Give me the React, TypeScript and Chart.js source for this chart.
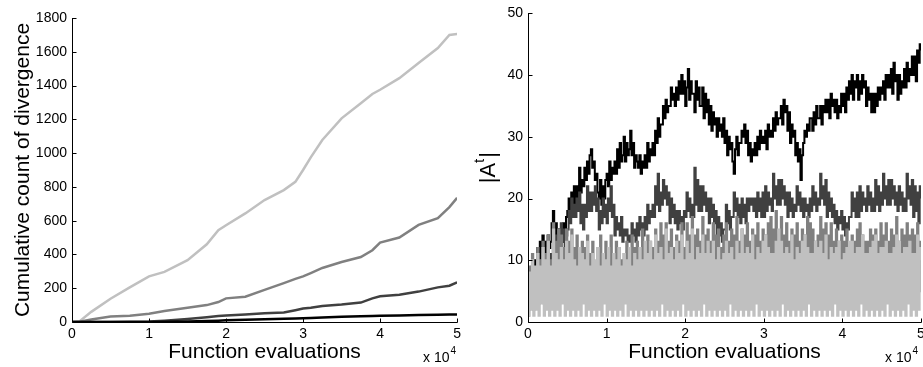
import React, { useEffect, useRef } from "react";
import { Chart, registerables } from "chart.js";
Chart.register(...registerables);

const FONT = "'Liberation Sans', Arial, Helvetica, sans-serif";

// ---------- Left panel: cumulative count of divergence ----------
const evalPoints = [0, 1000, 2500, 5000, 7500, 10000, 12000, 15000, 17500, 19000, 20000, 22500, 25000, 27500, 29000, 30000, 31000, 32500, 35000, 37500, 39000, 40000, 42500, 45000, 47500, 49000, 50000];
const divLight = [0, 5, 60, 138, 205, 270, 297, 366, 460, 544, 573, 643, 722, 781, 830, 900, 975, 1078, 1206, 1295, 1350, 1375, 1444, 1533, 1622, 1700, 1705];
const divMid = [0, 2, 15, 32, 37, 49, 65, 85, 100, 118, 140, 150, 190, 230, 255, 270, 290, 320, 355, 385, 425, 470, 500, 575, 615, 680, 735];
const divDark = [0, 0, 0, 0, 1, 3, 8, 18, 28, 35, 38, 45, 52, 56, 70, 80, 85, 95, 103, 115, 140, 152, 162, 180, 205, 215, 235];
const divBlack = [0, 0, 0, 0, 0, 0, 1, 3, 6, 8, 10, 13, 16, 19, 21, 22, 24, 27, 31, 34, 36, 37, 39, 41, 43, 44, 45];

// ---------- Right panel: |A^t| (sampled every 1/6 of 1000 evaluations) ----------
const sampleCount = 301;
const aBlack = [
  3, 7, 5, 9, 6, 10, 8, 12, 9, 13, 10, 14, 11, 13, 10, 14, 12, 13, 16, 18, 14, 16, 13, 15,
  12, 15, 13, 16, 14, 17, 18, 20, 17, 21, 19, 22, 19, 22, 20, 25, 21, 23, 22, 25, 23, 26, 24, 27,
  28, 25, 26, 23, 24, 21, 20, 23, 19, 22, 20, 23, 24, 22, 26, 23, 25, 24, 26, 24, 28, 25, 29, 26,
  27, 30, 26, 29, 27, 28, 31, 27, 29, 25, 27, 26, 25, 27, 24, 26, 25, 27, 25, 29, 26, 28, 27, 29,
  27, 31, 29, 33, 30, 32, 32, 35, 33, 36, 34, 35, 35, 38, 36, 37, 35, 38, 36, 39, 37, 40, 37, 39,
  35, 38, 41, 36, 39, 37, 37, 34, 39, 36, 38, 35, 35, 38, 33, 37, 34, 36, 32, 35, 31, 34, 32, 33,
  30, 33, 31, 32, 30, 33, 29, 31, 27, 30, 28, 29, 26, 24, 28, 30, 27, 29, 29, 31, 30, 32, 29, 31,
  27, 29, 26, 28, 27, 29, 27, 30, 28, 31, 29, 30, 29, 31, 28, 32, 30, 31, 30, 33, 31, 34, 32, 33,
  33, 35, 32, 36, 34, 35, 31, 34, 29, 32, 30, 31, 27, 29, 26, 28, 23, 27, 29, 31, 30, 32, 31, 33,
  33, 31, 34, 32, 35, 33, 33, 35, 32, 35, 34, 36, 34, 36, 33, 37, 35, 36, 34, 36, 33, 35, 34, 37,
  35, 37, 34, 38, 36, 39, 37, 40, 36, 39, 38, 40, 36, 39, 37, 40, 38, 39, 35, 38, 36, 37, 34, 37,
  34, 37, 35, 38, 36, 38, 37, 39, 36, 40, 38, 40, 38, 41, 37, 42, 39, 40, 36, 40, 37, 39, 38, 41,
  38, 42, 39, 41, 40, 43, 40, 43, 39, 44, 42, 45, 44
];
const aDark = [
  2, 6, 3, 8, 4, 7, 5, 9, 6, 10, 7, 11, 6, 10, 8, 12, 9, 11, 10, 13, 11, 14, 12, 15,
  12, 16, 13, 15, 12, 14, 15, 18, 16, 20, 17, 19, 17, 20, 18, 21, 16, 19, 15, 19, 17, 22, 18, 21,
  18, 21, 19, 22, 18, 20, 15, 18, 16, 20, 17, 19, 16, 20, 18, 22, 17, 19, 14, 17, 15, 16, 14, 17,
  13, 15, 14, 15, 13, 14, 13, 16, 14, 15, 13, 16, 14, 17, 15, 16, 14, 17, 15, 19, 16, 18, 17, 19,
  17, 22, 19, 24, 18, 21, 19, 23, 20, 22, 19, 21, 16, 20, 17, 19, 16, 18, 15, 18, 16, 17, 15, 18,
  17, 21, 18, 20, 17, 19, 17, 25, 19, 23, 18, 22, 18, 22, 19, 21, 18, 20, 16, 20, 17, 19, 16, 18,
  13, 17, 14, 16, 13, 15, 15, 19, 16, 18, 15, 17, 17, 21, 18, 20, 17, 19, 16, 20, 17, 19, 16, 20,
  18, 20, 19, 20, 18, 20, 17, 21, 18, 20, 17, 21, 17, 22, 18, 21, 19, 20, 18, 24, 20, 22, 19, 23,
  19, 23, 20, 22, 19, 21, 17, 21, 18, 20, 17, 19, 18, 22, 19, 21, 18, 20, 17, 20, 18, 19, 17, 20,
  18, 22, 19, 21, 18, 20, 19, 24, 20, 22, 19, 23, 17, 21, 18, 20, 17, 19, 16, 18, 15, 17, 16, 18,
  15, 17, 14, 16, 15, 17, 17, 21, 18, 20, 17, 21, 17, 22, 18, 21, 19, 20, 18, 22, 19, 21, 18, 20,
  18, 23, 19, 22, 18, 21, 19, 24, 20, 22, 19, 23, 19, 23, 20, 22, 19, 21, 18, 22, 19, 21, 18, 20,
  18, 24, 20, 22, 19, 23, 17, 22, 18, 21, 16, 22, 20
];
const aMid = [
  1, 9, 3, 11, 2, 8, 4, 12, 3, 10, 5, 13, 3, 11, 5, 14, 4, 10, 6, 16, 5, 13, 7, 15,
  5, 14, 6, 12, 4, 15, 7, 13, 5, 15, 6, 12, 4, 14, 6, 11, 5, 13, 6, 12, 4, 14, 7, 11,
  5, 13, 6, 9, 4, 12, 7, 14, 5, 11, 6, 13, 4, 12, 6, 14, 5, 11, 6, 13, 4, 12, 7, 10,
  5, 11, 6, 13, 4, 12, 7, 14, 5, 12, 6, 13, 4, 12, 6, 15, 5, 11, 6, 14, 4, 13, 7, 12,
  5, 15, 6, 13, 4, 16, 7, 14, 5, 16, 6, 13, 4, 15, 6, 12, 5, 14, 6, 13, 7, 16, 4, 12,
  5, 16, 6, 14, 7, 17, 4, 14, 6, 15, 5, 13, 6, 17, 4, 14, 7, 15, 5, 13, 6, 16, 4, 14,
  7, 15, 5, 12, 6, 14, 4, 16, 7, 13, 5, 15, 6, 14, 4, 17, 6, 13, 5, 15, 7, 14, 4, 16,
  6, 13, 5, 15, 7, 14, 4, 16, 6, 13, 5, 15, 7, 14, 4, 16, 6, 17, 5, 15, 7, 18, 4, 14,
  6, 17, 5, 14, 7, 16, 4, 13, 6, 15, 5, 14, 7, 16, 4, 13, 6, 15, 5, 14, 7, 17, 4, 16,
  6, 15, 5, 13, 7, 14, 4, 17, 6, 15, 5, 16, 7, 14, 4, 16, 6, 13, 5, 15, 7, 13, 4, 14,
  6, 13, 5, 15, 7, 12, 4, 14, 6, 13, 5, 15, 7, 16, 4, 14, 6, 13, 5, 13, 7, 15, 4, 14,
  6, 15, 5, 13, 7, 16, 4, 14, 6, 16, 5, 13, 7, 15, 4, 14, 6, 17, 5, 13, 7, 15, 4, 14,
  6, 16, 5, 14, 7, 15, 4, 14, 6, 16, 5, 13, 12
];
const aLight = [
  1, 8, 2, 10, 1, 9, 2, 11, 1, 9, 3, 12, 1, 10, 2, 13, 1, 9, 2, 15, 1, 11, 2, 10,
  1, 12, 3, 10, 1, 13, 2, 11, 1, 14, 2, 10, 1, 9, 2, 12, 1, 11, 3, 10, 1, 13, 2, 9,
  1, 11, 2, 10, 1, 12, 2, 9, 1, 11, 3, 10, 1, 12, 2, 9, 1, 11, 2, 10, 1, 12, 2, 9,
  1, 11, 3, 10, 1, 12, 2, 9, 1, 11, 2, 10, 1, 12, 2, 10, 1, 13, 2, 11, 1, 13, 2, 10,
  1, 14, 2, 11, 1, 12, 3, 10, 1, 15, 2, 11, 1, 12, 2, 10, 1, 13, 2, 11, 1, 14, 3, 10,
  1, 13, 2, 11, 1, 15, 2, 10, 1, 12, 2, 11, 1, 14, 3, 11, 1, 13, 2, 11, 1, 13, 2, 10,
  1, 12, 2, 10, 1, 11, 2, 13, 1, 11, 3, 12, 1, 10, 2, 13, 1, 11, 2, 15, 1, 11, 2, 12,
  1, 11, 2, 14, 1, 10, 3, 12, 1, 11, 2, 13, 1, 14, 2, 12, 1, 11, 2, 11, 1, 13, 2, 15,
  1, 13, 3, 11, 1, 12, 2, 11, 1, 14, 2, 10, 1, 12, 2, 11, 1, 13, 2, 14, 1, 12, 3, 11,
  1, 11, 2, 13, 1, 12, 2, 13, 1, 11, 2, 14, 1, 10, 2, 12, 1, 11, 3, 12, 1, 13, 2, 10,
  1, 11, 2, 12, 1, 13, 2, 13, 1, 11, 2, 12, 1, 12, 3, 14, 1, 11, 2, 11, 1, 12, 2, 13,
  1, 14, 2, 11, 1, 12, 2, 12, 1, 13, 3, 11, 1, 11, 2, 12, 1, 14, 2, 13, 1, 11, 2, 12,
  1, 12, 3, 13, 1, 11, 2, 11, 1, 14, 2, 12, 10
];

const xTickLabels = ["0", "1", "2", "3", "4", "5"];
const xMaxEvals = 50000;

function pts(xs: number[], ys: number[]) {
  return ys.map((y, i) => ({ x: xs[i], y }));
}

const sampleX = Array.from({ length: sampleCount }, (_, i) => (i * xMaxEvals) / (sampleCount - 1));

type PanelCfg = {
  xTitleY: number;
  expX: number;
  expY: number;
  yTitle: (ctx: CanvasRenderingContext2D, a: any) => void;
};

function axesPlugin(cfg: PanelCfg) {
  return {
    id: "matlabAxes",
    afterDraw(chart: any) {
      const { ctx, chartArea: a, scales } = chart;
      const xs = scales.x;
      const ys = scales.y;
      ctx.save();
      ctx.strokeStyle = "#000";
      ctx.lineWidth = 1;
      const L = Math.round(a.left) + 0.5;
      const B = Math.round(a.bottom) + 0.5;
      ctx.beginPath();
      ctx.moveTo(L, Math.round(a.top));
      ctx.lineTo(L, B);
      ctx.lineTo(Math.round(a.right) + 0.5, B);
      for (const t of xs.ticks) {
        const px = Math.round(xs.getPixelForValue(t.value)) + 0.5;
        ctx.moveTo(px, B);
        ctx.lineTo(px, B - 4);
      }
      for (const t of ys.ticks) {
        const py = Math.round(ys.getPixelForValue(t.value)) + 0.5;
        ctx.moveTo(L, py);
        ctx.lineTo(L + 4, py);
      }
      ctx.stroke();

      ctx.fillStyle = "#000";
      ctx.font = `21px ${FONT}`;
      ctx.textAlign = "center";
      ctx.textBaseline = "alphabetic";
      ctx.fillText("Function evaluations", (a.left + a.right) / 2, cfg.xTitleY);

      ctx.font = `14px ${FONT}`;
      ctx.textAlign = "left";
      ctx.fillText("x 10", cfg.expX, cfg.expY);
      const w = ctx.measureText("x 10").width;
      ctx.font = `10px ${FONT}`;
      ctx.fillText("4", cfg.expX + w + 1, cfg.expY - 8);

      cfg.yTitle(ctx, a);
      ctx.restore();
    },
  };
}

function baseOptions(yMax: number, yStep: number, yAxisWidth: number, padTop: number, padRight: number) {
  return {
    responsive: false,
    maintainAspectRatio: false,
    animation: false,
    layout: { padding: { top: padTop, right: padRight, left: 0, bottom: 0 } },
    plugins: { legend: { display: false }, tooltip: { enabled: false } },
    elements: { point: { radius: 0 }, line: { tension: 0 } },
    scales: {
      x: {
        type: "linear",
        min: 0,
        max: xMaxEvals,
        grid: { display: false, drawTicks: false },
        border: { display: false },
        ticks: {
          stepSize: 10000,
          autoSkip: false,
          maxRotation: 0,
          padding: 4,
          color: "#000",
          font: { family: FONT, size: 14 },
          callback: (v: number) => xTickLabels[Math.round(v / 10000)] ?? "",
        },
        afterFit: (s: any) => {
          s.height = 45;
        },
      },
      y: {
        type: "linear",
        min: 0,
        max: yMax,
        grid: { display: false, drawTicks: false },
        border: { display: false },
        ticks: {
          stepSize: yStep,
          padding: 5,
          color: "#000",
          font: { family: FONT, size: 14 },
          callback: (v: number) => String(v),
        },
        afterFit: (s: any) => {
          s.width = yAxisWidth;
        },
      },
    },
  };
}

function LeftPanel() {
  const ref = useRef<HTMLCanvasElement>(null);
  useEffect(() => {
    const mk = (data: number[], color: string, order: number) => ({
      data: pts(evalPoints, data),
      borderColor: color,
      borderWidth: 2.5,
      pointRadius: 0,
      fill: false,
      order,
    });
    const chart = new Chart(ref.current!, {
      type: "line",
      data: {
        datasets: [
          mk(divLight, "#c0c0c0", 3),
          mk(divMid, "#808080", 2),
          mk(divDark, "#404040", 1),
          mk(divBlack, "#000000", 0),
        ],
      },
      options: baseOptions(1800, 200, 72, 18, 6) as any,
      plugins: [
        axesPlugin({
          xTitleY: 358,
          expX: 423,
          expY: 362,
          yTitle: (ctx, a) => {
            ctx.save();
            ctx.translate(29, (a.top + a.bottom) / 2);
            ctx.rotate(-Math.PI / 2);
            ctx.font = `21px ${FONT}`;
            ctx.textAlign = "center";
            ctx.textBaseline = "alphabetic";
            ctx.fillText("Cumulative count of divergence", 0, 0);
            ctx.restore();
          },
        }),
      ],
    });
    return () => chart.destroy();
  }, []);
  return <canvas ref={ref} width={465} height={367} style={{ position: "absolute", left: 0, top: 0 }} />;
}

function RightPanel() {
  const ref = useRef<HTMLCanvasElement>(null);
  useEffect(() => {
    const mk = (data: number[], color: string, order: number, width: number) => ({
      data: pts(sampleX, data),
      borderColor: color,
      borderWidth: width,
      pointRadius: 0,
      fill: false,
      stepped: true,
      order,
    });
    const chart = new Chart(ref.current!, {
      type: "line",
      data: {
        datasets: [
          mk(aBlack, "#000000", 3, 2),
          mk(aDark, "#404040", 2, 2),
          mk(aMid, "#808080", 1, 2),
          mk(aLight, "#c0c0c0", 0, 2),
        ],
      },
      options: baseOptions(50, 10, 63, 12, 14) as any,
      plugins: [
        axesPlugin({
          xTitleY: 358,
          expX: 420,
          expY: 362,
          yTitle: (ctx, a) => {
            ctx.save();
            ctx.translate(30, (a.top + a.bottom) / 2);
            ctx.rotate(-Math.PI / 2);
            ctx.font = `22px ${FONT}`;
            ctx.textBaseline = "alphabetic";
            const w1 = ctx.measureText("|A").width;
            ctx.font = `15px ${FONT}`;
            const w2 = ctx.measureText("t").width;
            ctx.font = `22px ${FONT}`;
            const w3 = ctx.measureText("|").width;
            const total = w1 + w2 + 1 + w3;
            let x = -total / 2;
            ctx.textAlign = "left";
            ctx.fillText("|A", x, 0);
            x += w1;
            ctx.font = `15px ${FONT}`;
            ctx.fillText("t", x, -11);
            x += w2 + 1;
            ctx.font = `22px ${FONT}`;
            ctx.fillText("|", x, 0);
            ctx.restore();
          },
        }),
      ],
    });
    return () => chart.destroy();
  }, []);
  return <canvas ref={ref} width={470} height={367} style={{ position: "absolute", left: 465, top: 0 }} />;
}

export default function App() {
  return (
    <div
      style={{
        position: "absolute",
        left: 0,
        top: 0,
        width: 923,
        height: 367,
        overflow: "hidden",
        background: "#fff",
      }}
    >
      <LeftPanel />
      <RightPanel />
    </div>
  );
}
